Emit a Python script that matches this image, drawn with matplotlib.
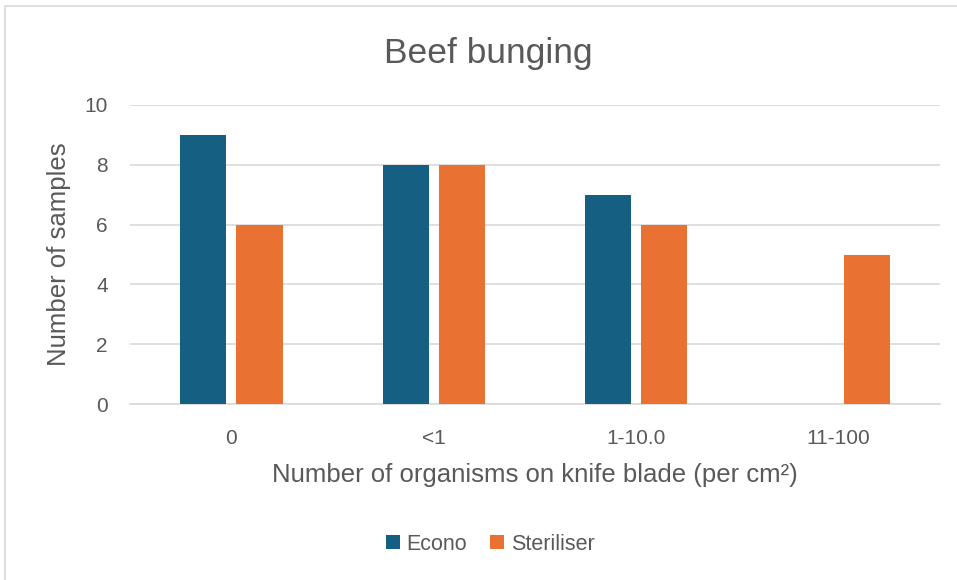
import matplotlib.pyplot as plt
import numpy as np
from matplotlib.patches import Rectangle

# Datos
categorias = ['0', '<1', '1-10.0', '11-100']
econo = [9, 8, 7, 0]
esterilizador = [6, 8, 6, 5]
series = ['Econo', 'Steriliser']
colores = ['#156082', '#E97132']

gris_texto = '#595959'
plt.rcParams['font.family'] = ['Liberation Sans', 'DejaVu Sans']

fig = plt.figure(figsize=(9.57, 5.80), dpi=100)
ax = fig.add_axes([0.136, 0.3034, 0.846, 0.5156])

x = np.arange(len(categorias))
ancho = 0.228
b1 = ax.bar(x - 0.139, econo, ancho, color=colores[0], label=series[0], zorder=3)
b2 = ax.bar(x + 0.139, esterilizador, ancho, color=colores[1], label=series[1], zorder=3)

ax.set_xlim(-0.5, 3.5)
ax.set_ylim(0, 10)
ax.set_yticks([0, 2, 4, 6, 8, 10])
ax.yaxis.grid(True, color='#D9D9D9', linewidth=1.2, zorder=0)
for s in ['top', 'right', 'left']:
    ax.spines[s].set_visible(False)
ax.spines['bottom'].set_color('#D9D9D9')
ax.spines['bottom'].set_linewidth(1.2)
ax.tick_params(length=0, colors=gris_texto, labelsize=15)
ax.set_xticks(x)
ax.set_xticklabels(categorias)
ax.tick_params(axis='x', pad=18)
ax.tick_params(axis='y', pad=16)

# Título centrado sobre la figura
fig.text(488 / 957, 1 - 63 / 580, 'Beef bunging', fontsize=25.5, color=gris_texto,
         ha='center', va='baseline')
ax.set_ylabel('Number of samples', fontsize=18.5, color=gris_texto, labelpad=10)
ax.set_xlabel('Number of organisms on knife blade (per cm²)', fontsize=18.5,
              color=gris_texto, labelpad=11)

leg = fig.legend(handles=[b1, b2], labels=series, loc='center', bbox_to_anchor=(490 / 957, 0.062),
                 ncol=2, frameon=False, fontsize=15.5, handlelength=0.65, handleheight=0.65,
                 handletextpad=0.3, columnspacing=1.1)
for t in leg.get_texts():
    t.set_color(gris_texto)

# Marco del gráfico
fig.patches.append(Rectangle((5 / 957, -0.01), 1.0, 1 - 6 / 580 + 0.01, transform=fig.transFigure,
                             fill=False, edgecolor='#D9D9D9', linewidth=1.2))

fig.savefig('out.png', dpi=100)
